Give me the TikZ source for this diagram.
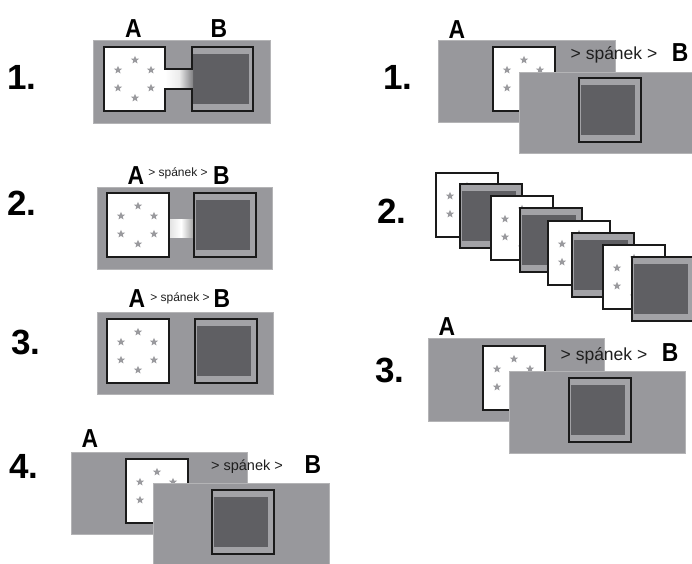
\documentclass[tikz,border=0pt]{standalone}
\usepackage{fontspec}
\setmainfont{Liberation Sans}
\usetikzlibrary{shapes.geometric}
\definecolor{panelgray}{HTML}{98989C}
\definecolor{edgegray}{HTML}{B4B4B6}
\definecolor{bframe}{HTML}{A2A2A6}
\definecolor{bdark}{HTML}{5F5F63}
\definecolor{outline}{HTML}{1A1A1A}
\definecolor{stargray}{HTML}{9A9A9E}
\definecolor{txt}{HTML}{1E1E1E}
\tikzset{
  outerbox/.style={fill=panelgray, draw=edgegray, line width=1pt},
  boxline/.style={draw=outline, line width=2pt},
  starmark/.style={star, star points=5, star point ratio=2.3, fill=stargray, draw=none, inner sep=0pt, minimum size=8.5pt},
  numlabel/.style={font=\fontsize{35}{35}\selectfont\bfseries, text=black, inner sep=0pt},
  letterlabel/.style={font=\fontsize{26}{26}\selectfont\bfseries, text=black, inner sep=0pt, xscale=0.88},
  sleepsmall/.style={font=\fontsize{12}{12}\selectfont, text=txt, inner sep=0pt},
  sleepmid/.style={font=\fontsize{14.5}{14.5}\selectfont, text=txt, inner sep=0pt},
  sleepbig/.style={font=\fontsize{17.5}{17.5}\selectfont, text=txt, inner sep=0pt},
}
\newcommand\mkStars[1]{%
  \node[starmark] (#1s1) at (31,13) {};
  \node[starmark] (#1s2) at (14,23) {};
  \node[starmark] (#1s3) at (47,23) {};
  \node[starmark] (#1s4) at (14,41) {};
  \node[starmark] (#1s5) at (47,41) {};
  \node[starmark] (#1s6) at (31,51) {};}
\newcommand\mkA[3]{%
  \begin{scope}[shift={(#1,#2)}]
    \draw[boxline, fill=white] (0,0) rectangle (62,64);
    \mkStars{#3}
  \end{scope}}
\newcommand\mkB[2]{%
  \begin{scope}[shift={(#1,#2)}]
    \fill[bframe] (0,0) rectangle (62,64);
    \fill[bdark] (1.5,7) rectangle (56,57);
    \draw[boxline] (0,0) rectangle (62,64);
  \end{scope}}
\begin{document}
\begin{tikzpicture}[x=1pt, y=-1pt]
\useasboundingbox (0,0) rectangle (692,563);
\fill[white] (0,0) rectangle (692,563);

% ---------- left 1 ----------
\draw[outerbox] (93,40) rectangle (270,123);
\fill[white] (104,47) rectangle (165,111);
\fill[bframe] (192,47) rectangle (253,111);
\fill[bdark] (193,54) rectangle (249,104);
\shade[left color=white, right color=bdark!80!white, middle color=white!85!gray] (165,69) rectangle (193,89);
\begin{scope}[shift={(104,47)}]\mkStars{L1}\end{scope}
\draw[boxline, line join=miter] (104,47) -- (165,47) -- (165,69) -- (192,69) -- (192,47) -- (253,47)
  -- (253,111) -- (192,111) -- (192,89) -- (165,89) -- (165,111) -- (104,111) -- cycle;
\node[letterlabel] (L1A) at (133.5,29) {A};
\node[letterlabel] (L1B) at (219,29) {B};
\node[numlabel] (L1n) at (22,77) {1.};

% ---------- left 2 ----------
\draw[outerbox] (97,187) rectangle (272,269);
\shade[left color=gray!25!white, right color=gray!75!white, middle color=white] (168,219) rectangle (194,237);
\mkA{107}{193}{L2}
\mkB{194}{193}
\node[letterlabel] (L2A) at (136,175.5) {A};
\node[sleepsmall] (L2s) at (178,173.5) {> spánek >};
\node[letterlabel] (L2B) at (221.5,175.5) {B};
\node[numlabel] (L2n) at (22,203) {2.};

% ---------- left 3 ----------
\draw[outerbox] (97,312) rectangle (273,394);
\mkA{107}{319}{L3}
\mkB{195}{319}
\node[letterlabel] (L3A) at (137,299) {A};
\node[sleepsmall] (L3s) at (180,298.5) {> spánek >};
\node[letterlabel] (L3B) at (222,299) {B};
\node[numlabel] (L3n) at (26,342) {3.};

% ---------- left 4 ----------
\draw[outerbox] (71,452) rectangle (247,534);
\mkA{126}{459}{L4}
\draw[outerbox] (153,483) rectangle (329,566);
\mkB{212}{490}
\node[letterlabel] (L4A) at (90,439) {A};
\node[sleepmid] (L4s) at (247,467) {> spánek >};
\node[letterlabel] (L4B) at (313,465) {B};
\node[numlabel] (L4n) at (24,466) {4.};

% ---------- right 1 ----------
\draw[outerbox] (438,40) rectangle (615,122);
\mkA{493}{47}{R1}
\draw[outerbox] (519,72) rectangle (697,153);
\mkB{579}{78}
\node[letterlabel] (R1A) at (457,29.5) {A};
\node[sleepbig] (R1s) at (614,55) {> spánek >};
\node[letterlabel] (R1B) at (680,52.5) {B};
\node[numlabel] (R1n) at (398,77) {1.};

% ---------- right 2 ----------
\mkA{436}{173}{W1}
\mkB{460}{184}
\mkA{491}{196}{W2}
\mkB{520}{208}
\mkA{548}{221}{W3}
\mkB{572}{233}
\mkA{603}{245}{W4}
\mkB{632}{257}
\node[numlabel] (R2n) at (392,211) {2.};

% ---------- right 3 ----------
\draw[outerbox] (428,338) rectangle (604,421);
\mkA{483}{346}{R3}
\draw[outerbox] (509,371) rectangle (685,453);
\mkB{569}{378}
\node[letterlabel] (R3A) at (447,326.5) {A};
\node[sleepbig] (R3s) at (604,356) {> spánek >};
\node[letterlabel] (R3B) at (670,352.5) {B};
\node[numlabel] (R3n) at (390,370) {3.};
\end{tikzpicture}
\end{document}
